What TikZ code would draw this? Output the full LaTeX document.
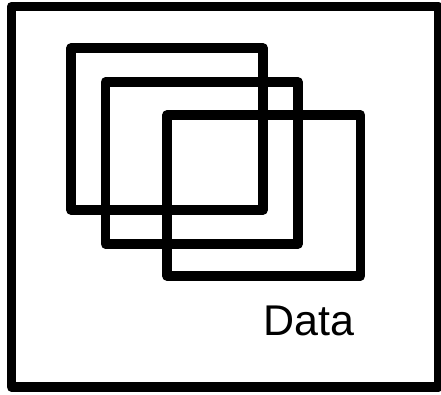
\documentclass[tikz,border=0pt]{standalone}
\usepackage{fontspec}
\setmainfont{Liberation Sans}
\begin{document}
\begin{tikzpicture}[x=1pt,y=-1pt,
  frame/.style={draw=black,line width=9.5pt,line join=round}]
\useasboundingbox (0,0) rectangle (441,394);
\path[clip] (0,0) rectangle (441,394);
\draw[frame] (11.5,6.5) rectangle (438.5,387);
\draw[frame] (71,48) rectangle (263,210);
\draw[frame] (105.5,82) rectangle (298,244);
\draw[frame] (167,115) rectangle (360.5,276);
\node[font=\fontsize{43}{49}\selectfont,inner sep=0pt,anchor=base] (data) at (309,335) {Data};
\end{tikzpicture}
\end{document}
